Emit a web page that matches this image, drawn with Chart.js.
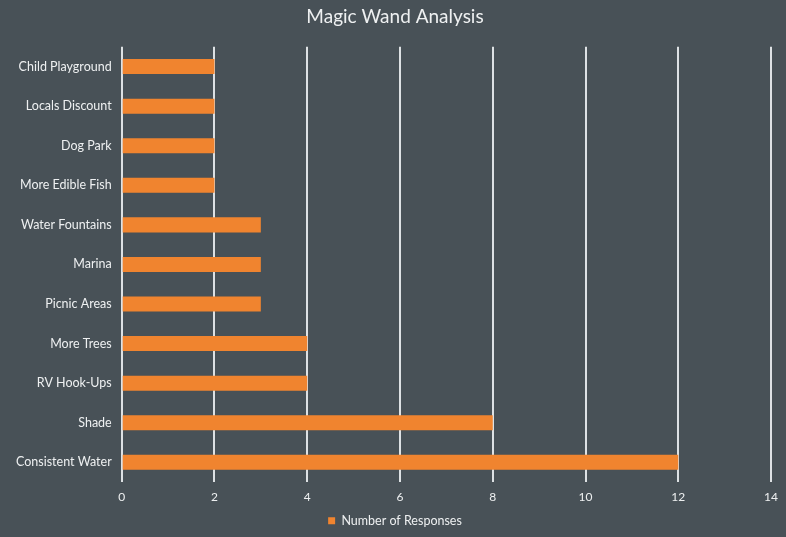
<!DOCTYPE html>
<html>
<head>
<meta charset="utf-8">
<script src="https://cdn.jsdelivr.net/npm/chart.js@4/dist/chart.umd.min.js"></script>
<style>
  html, body { margin: 0; padding: 0; background: #485157; }
  #wrap { width: 786px; height: 537px; }
</style>
</head>
<body>
<div id="wrap"><canvas id="c" width="786" height="537"></canvas></div>
<script>
const categories = [
  'Child Playground', 'Locals Discount', 'Dog Park', 'More Edible Fish',
  'Water Fountains', 'Marina', 'Picnic Areas', 'More Trees',
  'RV Hook-Ups', 'Shade', 'Consistent Water'
];
const responses = [2, 2, 2, 2, 3, 3, 3, 4, 4, 8, 12];
const xTicks = [0, 2, 4, 6, 8, 10, 12, 14];

const fontFamily = "Lato, 'Open Sans', sans-serif";
const textColor = '#eef0f1';

new Chart(document.getElementById('c'), {
  type: 'bar',
  data: {
    labels: categories,
    datasets: [{
      label: 'Number of Responses',
      data: responses,
      backgroundColor: '#f0842f',
      borderWidth: 0,
      categoryPercentage: 0.76,
      barPercentage: 0.5
    }]
  },
  options: {
    indexAxis: 'y',
    responsive: false,
    animation: false,
    layout: { padding: { left: 6, right: 2, top: 0, bottom: 0 } },
    plugins: {
      title: {
        display: true,
        text: 'Magic Wand Analysis',
        color: textColor,
        font: { family: fontFamily, size: 19, weight: 'normal' },
        padding: { top: 5, bottom: 19 }
      },
      legend: {
        display: true,
        position: 'bottom',
        labels: {
          color: textColor,
          boxWidth: 7,
          boxHeight: 7,
          padding: 2,
          font: { family: fontFamily, size: 12.5 }
        }
      },
      tooltip: { enabled: false }
    },
    scales: {
      x: {
        min: xTicks[0],
        max: xTicks[xTicks.length - 1],
        afterBuildTicks: (axis) => { axis.ticks = xTicks.map(v => ({ value: v })); },
        grid: { color: '#dde1e4', lineWidth: 2, drawTicks: false },
        border: { display: false },
        ticks: { color: textColor, padding: 8, font: { family: fontFamily, size: 12 } }
      },
      y: {
        grid: { display: false, drawTicks: false },
        border: { display: false },
        ticks: { color: textColor, padding: 10, font: { family: fontFamily, size: 12.5 } }
      }
    }
  }
});
</script>
</body>
</html>
